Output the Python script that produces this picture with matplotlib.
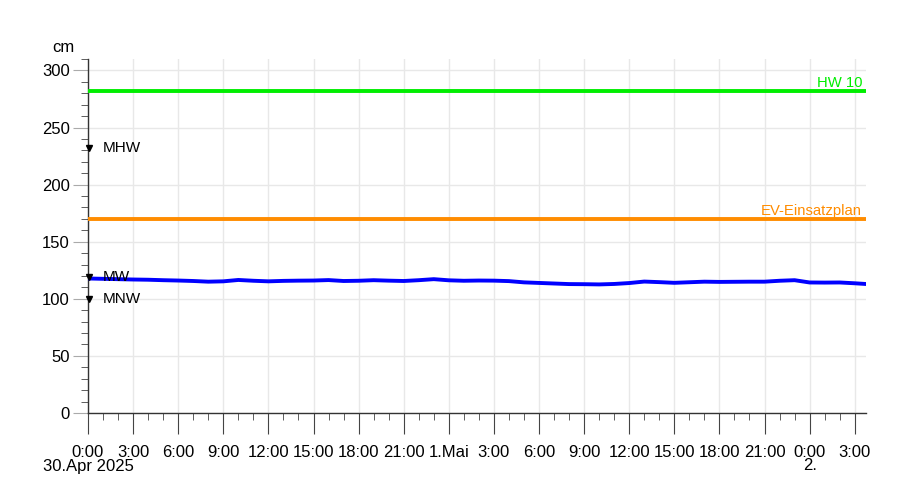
import matplotlib
matplotlib.use("Agg")
import matplotlib.pyplot as plt
from matplotlib.ticker import FixedLocator, MultipleLocator
from matplotlib.transforms import blended_transform_factory

plt.rcParams['font.family'] = ['Liberation Sans', 'DejaVu Sans']

# hours since 30.Apr 2025 0:00
hours = [0, 1, 2, 3, 4, 5, 6, 7, 8, 9, 10, 11, 12, 13, 14, 15, 16, 17, 18, 19,
         20, 21, 22, 23, 24, 25, 26, 27, 28, 29, 30, 31, 32, 33, 34, 35, 36, 37,
         38, 39, 40, 41, 42, 43, 44, 45, 46, 47, 48, 49, 50, 51, 51.7]
level = [117.8, 117.5, 117.2, 116.9, 116.7, 116.3, 116.0, 115.6, 115.0, 115.3,
         116.5, 115.8, 115.3, 115.7, 115.9, 116.0, 116.4, 115.6, 115.8, 116.3,
         115.9, 115.6, 116.3, 117.2, 116.2, 115.8, 116.0, 115.9, 115.5, 114.4,
         113.9, 113.4, 112.9, 112.8, 112.6, 113.0, 113.8, 115.1, 114.6, 114.0,
         114.5, 115.0, 114.8, 114.9, 115.0, 115.0, 115.8, 116.3, 114.3, 114.2,
         114.3, 113.6, 113.0]

tick_hours = [0, 3, 6, 9, 12, 15, 18, 21, 24, 27, 30, 33, 36, 39, 42, 45, 48, 51]
tick_labels = ["0:00", "3:00", "6:00", "9:00", "12:00", "15:00",
               "18:00", "21:00", "1.Mai", "3:00", "6:00", "9:00", "12:00",
               "15:00", "18:00", "21:00", "0:00", "3:00"]
date_hours = [0, 48]
date_labels = ["30.Apr 2025", "2."]

ref_names = ["MHW", "MW", "MNW"]
ref_values = [232, 119, 100]

thr_names = ["HW 10", "EV-Einsatzplan"]
thr_values = [282, 170]
thr_colors = ["#00ee00", "#ff8c00"]

fig = plt.figure(figsize=(9, 4.96), dpi=100)
ax = fig.add_axes([88/900, 1-413/496, (866-88)/900, (413-59)/496])
ax.set_xlim(0, 51.75)
ax.set_ylim(0, 310)

for s in ['top', 'right']:
    ax.spines[s].set_visible(False)
for s in ['left', 'bottom']:
    ax.spines[s].set_color('#333333')
    ax.spines[s].set_linewidth(1)

ax.xaxis.set_major_locator(FixedLocator(tick_hours))
ax.set_xticklabels(tick_labels)
ax.xaxis.set_minor_locator(MultipleLocator(1))
ax.yaxis.set_major_locator(MultipleLocator(50))
ax.yaxis.set_minor_locator(MultipleLocator(10))

ax.tick_params(axis='x', which='major', length=15, color='#444444', labelsize=12, pad=8)
ax.tick_params(axis='x', which='minor', length=5, color='#444444')
ax.tick_params(axis='y', which='major', length=11, color='#aaaaaa', labelsize=12, pad=2)
ax.tick_params(axis='y', which='minor', length=5, color='#444444')

trans = blended_transform_factory(ax.transData, fig.transFigure)
for h, lbl in zip(date_hours, date_labels):
    ax.text(h, 1-466/496, lbl, transform=trans, ha='center', va='center', fontsize=12)

ax.grid(True, which='major', color='#e8e8e8', linewidth=1)
ax.set_axisbelow(True)

for name, val, col in zip(thr_names, thr_values, thr_colors):
    ax.axhline(val, color=col, linewidth=2.8, zorder=3)
    ax.text(51.5, val + 0.5, name, color=col, ha='right', va='bottom', fontsize=10.7)

ax.plot(hours, level, color='#0000ff', linewidth=2.8, zorder=4)

for name, val in zip(ref_names, ref_values):
    ax.plot([0.05], [val], marker='v', color='black', markersize=5, clip_on=False, zorder=5)
    ax.text(1.0, val, name, ha='left', va='center', fontsize=11, color='black', zorder=6)

fig.text(63/900, 1-48/496, "cm", ha='center', va='center', fontsize=12)

fig.savefig("out.png", dpi=100)
